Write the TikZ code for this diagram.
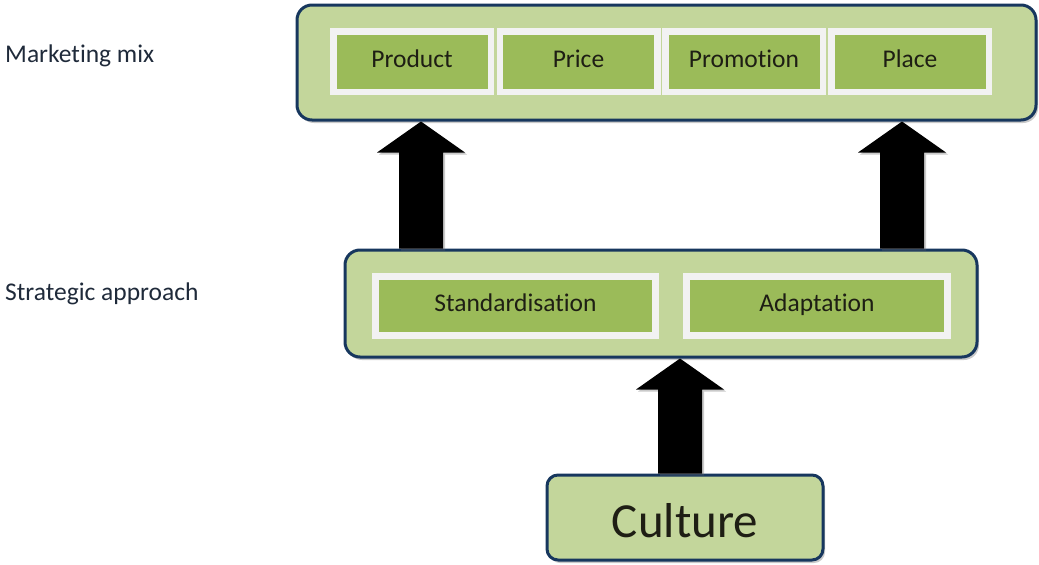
\documentclass[tikz,border=0pt]{standalone}
\usepackage{fontspec}
\setmainfont{Carlito}[Ligatures={NoCommon}]
\usetikzlibrary{shadows,calc}
\definecolor{boxfill}{HTML}{C3D69B}
\definecolor{boxline}{HTML}{17375E}
\definecolor{cellfill}{HTML}{9BBB59}
\definecolor{cellframe}{HTML}{F2F2F2}
\definecolor{labeltext}{HTML}{1F2A3A}
\definecolor{celltext}{HTML}{1E1E14}

\tikzset{
  panel/.style={draw=boxline, line width=3pt, fill=boxfill, rounded corners=15pt,
    inner sep=0pt,
    drop shadow={shadow xshift=2pt, shadow yshift=-3pt, fill=black!60, opacity=.35}},
  cell/.style={draw=cellframe, line width=6.5pt, fill=cellfill, inner sep=0pt,
    minimum height=60.5pt, text height=17pt, text depth=6pt,
    font=\fontsize{25.5}{30}\selectfont, text=celltext,
    drop shadow={shadow xshift=2.5pt, shadow yshift=-3pt, fill=black!70, opacity=.35}},
  sidelabel/.style={anchor=base west, inner sep=0pt,
    font=\fontsize{25.5}{30}\selectfont, text=labeltext},
  blockarrow/.style={fill=black, draw=none,
    drop shadow={shadow xshift=2pt, shadow yshift=-2pt, fill=black!60, opacity=.35},
    to path={let \p1=(\tikztostart), \p2=(\tikztotarget) in
      (\x1-22pt,\y1) -- (\x1-22pt,\y2-31pt) -- (\x1-44pt,\y2-31pt) -- (\x1,\y2)
      -- (\x1+44pt,\y2-31pt) -- (\x1+22pt,\y2-31pt) -- (\x1+22pt,\y1) -- cycle}},
}

\begin{document}
\begin{tikzpicture}[x=1pt,y=-1pt]
  \useasboundingbox (0,0) rectangle (1039,565);

  % side captions
  \node[sidelabel] (mmlabel) at (5,62) {Marketing mix};
  \node[sidelabel] (salabel) at (5,300) {Strategic approach};

  % marketing mix panel
  \node[panel, minimum width=739pt, minimum height=115pt] (mix) at (666.5,62.5) {};
  \node[cell, minimum width=157.5pt] (product)   at (412,61.5)   {Product};
  \node[cell, minimum width=157.5pt] (price)     at (578.5,61.5) {Price};
  \node[cell, minimum width=157.5pt] (promotion) at (744,61.5)   {Promotion};
  \node[cell, minimum width=157.5pt] (place)     at (910,61.5)   {Place};

  % strategic approach panel
  \node[panel, minimum width=632pt, minimum height=107pt] (mid) at (661,303.5) {};
  \node[cell, minimum width=280pt, minimum height=59pt] (std)   at (515.5,306) {Standardisation};
  \node[cell, minimum width=261pt, minimum height=59pt] (adapt) at (817,306)   {Adaptation};

  % culture box
  \node[panel, rounded corners=11pt, minimum width=276pt, minimum height=85pt,
        font=\fontsize{49}{55}\selectfont, text=celltext,
        text height=44pt, text depth=5pt] (cult) at (685,517.5) {Culture};

  % block arrows
  \coordinate (axL) at (421,0);
  \coordinate (axR) at (902,0);
  \coordinate (axC) at (680,0);
  \path[blockarrow] (mid.north -| axL) to (mix.south -| axL);
  \path[blockarrow] (mid.north -| axR) to (mix.south -| axR);
  \path[blockarrow] (cult.north -| axC) to (mid.south -| axC);
\end{tikzpicture}
\end{document}
